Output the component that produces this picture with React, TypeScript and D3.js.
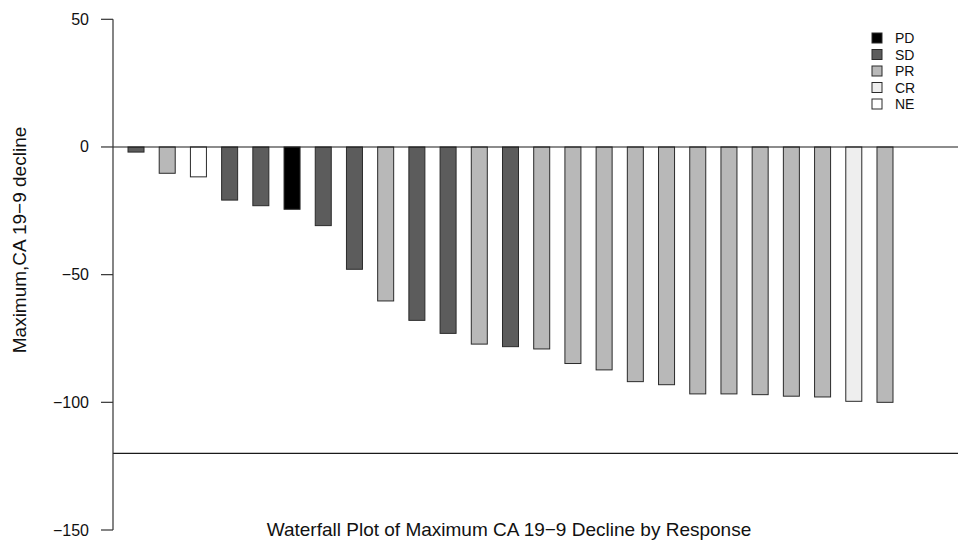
import React from "react";
import * as d3 from "d3";

const values = [-2, -10.3, -11.7, -20.8, -23, -24.4, -30.8, -47.9, -60.3, -67.9, -73, -77.2, -78.2, -79.1, -84.8, -87.3, -91.9, -93.1, -96.7, -96.7, -97, -97.6, -97.9, -99.6, -100];
const responses = ["SD", "PR", "NE", "SD", "SD", "PD", "SD", "SD", "PR", "SD", "SD", "PR", "SD", "PR", "PR", "PR", "PR", "PR", "PR", "PR", "PR", "PR", "PR", "CR", "PR"];
const legendKeys = ["PD", "SD", "PR", "CR", "NE"];
const legendColors = ["#000000", "#5c5c5c", "#b8b8b8", "#eeeeee", "#ffffff"];
const yTicks = [50, 0, -50, -100, -150];
const refLines = [0, -120];

const W = 958;
const H = 544;
const FONT = "'Liberation Sans', Arial, Helvetica, sans-serif";

export default function App() {
  const y = d3.scaleLinear().domain([-150, 50]).range([530, 19.3]);
  const x = d3
    .scaleBand<number>()
    .domain(values.map((_, i) => i))
    .range([120.4, 900.6])
    .paddingInner(0.487)
    .paddingOuter(0.2436);
  const color = d3.scaleOrdinal<string, string>().domain(legendKeys).range(legendColors);
  const axisX = 113;
  const fmt = d3.format("d");

  return (
    <svg width={W} height={H} style={{ position: "absolute", left: 0, top: 0, background: "#fff" }} fontFamily={FONT}>
      <rect x={0} y={0} width={W} height={H} fill="#fff" />
      {values.map((v, i) => (
        <rect
          key={i}
          x={x(i)!}
          y={y(0)}
          width={x.bandwidth()}
          height={y(v) - y(0)}
          fill={color(responses[i])}
          stroke="#2a2a2a"
          strokeWidth={1}
        />
      ))}
      {refLines.map((r) => (
        <line key={r} x1={axisX} x2={W} y1={y(r)} y2={y(r)} stroke="#1a1a1a" strokeWidth={1.2} />
      ))}
      <line x1={axisX} x2={axisX} y1={y(50)} y2={y(-150)} stroke="#333" strokeWidth={1.2} />
      {yTicks.map((t) => (
        <g key={t}>
          <line x1={axisX - 12} x2={axisX} y1={y(t)} y2={y(t)} stroke="#333" strokeWidth={1.2} />
          <text x={89} y={y(t)} textAnchor="end" dominantBaseline="central" fontSize={16} fill="#111">
            {fmt(t)}
          </text>
        </g>
      ))}
      <text
        transform={`translate(25.5,240) rotate(-90)`}
        textAnchor="middle"
        fontSize={19}
        fill="#111"
      >
        Maximum,CA 19−9 decline
      </text>
      <text x={509} y={536} textAnchor="middle" fontSize={19} fill="#111">
        Waterfall Plot of Maximum CA 19−9 Decline by Response
      </text>
      {legendKeys.map((k, i) => (
        <g key={k}>
          <rect x={872} y={38 + i * 16.5 - 5} width={10} height={10} fill={legendColors[i]} stroke="#2a2a2a" strokeWidth={1} />
          <text x={895} y={38 + i * 16.5} dominantBaseline="central" fontSize={14} fill="#111">
            {k}
          </text>
        </g>
      ))}
    </svg>
  );
}
